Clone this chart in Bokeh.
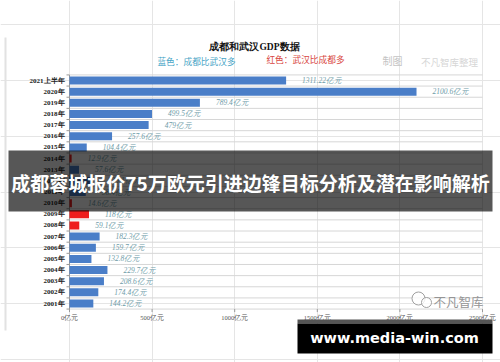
from bokeh.plotting import figure
from bokeh.models import ColumnDataSource, Range1d
from bokeh.core.properties import value
from bokeh.embed import file_html
from bokeh.resources import INLINE

# ---------------- data ----------------
categories = ["2021上半年", "2020年", "2019年", "2018年", "2017年", "2016年", "2015年",
              "2014年", "2013年", "2012年", "2011年", "2010年", "2009年", "2008年",
              "2007年", "2006年", "2005年", "2004年", "2003年", "2002年", "2001年"]
diff_values = [1311.22, 2100.6, 789.4, 499.5, 479, 257.6, 104.4,
               12.9, 57.6, 135.1, 98.4, 14.6, 118, 59.1,
               182.3, 159.7, 132.8, 229.7, 208.6, 174.4, 144.2]
leader = ["成都", "成都", "成都", "成都", "成都", "成都", "成都",
          "武汉", "成都", "成都", "成都", "武汉", "武汉", "武汉",
          "成都", "成都", "成都", "成都", "成都", "成都", "成都"]
value_labels = ["1311.22亿元", "2100.6亿元", "789.4亿元", "499.5亿元", "479亿元", "257.6亿元", "104.4亿元",
                "12.9亿元", "57.6亿元", "135.1亿元", "98.4亿元", "14.6亿元", "118亿元", "59.1亿元",
                "182.3亿元", "159.7亿元", "132.8亿元", "229.7亿元", "208.6亿元", "174.4亿元", "144.2亿元"]
tick_values = [0, 500, 1000, 1500, 2000, 2500]
tick_labels = ["0亿元", "500亿元", "1000亿元", "1500亿元", "2000亿元", "2500亿元"]

title_text = "成都和武汉GDP数据"
legend_blue = "蓝色：成都比武汉多"
legend_red = "红色：武汉比成都多"
banner_text = "成都蓉城报价75万欧元引进边锋目标分析及潜在影响解析"
watermark_text = "不凡智库"
site_text = "www.media-win.com"

# ---------------- layout helpers ----------------
W, H = 500, 362
PX_PER_UNIT = 0.1652      # horizontal pixels per 亿元
ROW_PX = 11.15            # pixels per row
X0_PX, Y0_PX = 69, 303    # page position of value 0 / bottom row centre


def fx(px):
    return (px - X0_PX) / PX_PER_UNIT


def fy(py):
    return (Y0_PX - py) / ROW_PX


def txt(x, y, t, font, size, color, style="normal", align="center"):
    p.text(x=[fx(x)], y=[fy(y)], text=[t], text_align=align, text_baseline="middle",
           text_font=value(font), text_font_style=style, text_font_size=size, text_color=color)


n = len(categories)
rows = [n - 1 - i for i in range(n)]
colors = ["#4a7ec8" if l == "成都" else "#ee1d1d" for l in leader]

src = ColumnDataSource(dict(cat=categories, val=diff_values, y=rows, col=colors, lab=value_labels))

p = figure(width=W, height=H, output_backend="svg", toolbar_location=None,
           x_range=Range1d(fx(0), fx(W)), y_range=Range1d(fy(H), fy(0)),
           x_axis_location=None, y_axis_location=None, min_border=0,
           outline_line_color=None, background_fill_color="white",
           border_fill_color="white")

# thin left border of the screenshot
p.segment(x0=[fx(5)], x1=[fx(5)], y0=[fy(37)], y1=[fy(330)], line_color="#e2e2e2", line_width=2)

# grid lines (row boundaries)
bounds = [k + 0.5 for k in range(-1, n)]
p.segment(x0=[0] * len(bounds), x1=[tick_values[-1]] * len(bounds), y0=bounds, y1=bounds,
          line_color="#d6d6d6", line_width=1)
# left axis line and small ticks
p.segment(x0=[0], x1=[0], y0=[-0.5], y1=[n - 0.5], line_color="#9a9a9a", line_width=1)
p.segment(x0=[fx(66)] * len(bounds), x1=[0] * len(bounds), y0=bounds, y1=bounds,
          line_color="#9a9a9a", line_width=1)
# bottom ticks
p.segment(x0=tick_values, x1=tick_values, y0=[-0.5] * len(tick_values),
          y1=[-0.5 - 3 / ROW_PX] * len(tick_values), line_color="#9a9a9a", line_width=1)

# bars
p.hbar(y="y", left=0, right="val", height=0.72, fill_color="col", line_color=None, source=src)

# value labels
p.text(x="val", y="y", text="lab", x_offset=16, text_align="left", text_baseline="middle",
       text_font=value("Liberation Serif"), text_font_style="italic", text_font_size="7.5px",
       text_color="#6f9ca8", source=src)

# category labels
p.text(x=[fx(64)] * n, y=rows, text=categories, text_align="right", text_baseline="middle",
       text_font=value("Liberation Serif"), text_font_style="bold", text_font_size="7px",
       text_color="#222222")

# x tick labels
p.text(x=tick_values, y=[fy(317)] * len(tick_values), text=tick_labels, text_align="center",
       text_baseline="middle", text_font=value("Liberation Serif"), text_font_size="6.5px",
       text_color="#555555")

# title and legend texts
txt(254, 46, title_text, "Liberation Serif", "9.5px", "#111111", style="bold")
txt(196, 61, legend_blue, "Noto Sans CJK SC", "8.7px", "#46a4c6")
txt(305, 59, legend_red, "Noto Sans CJK SC", "8.7px", "#d8463e")
# blurred watermark top right
txt(392, 60, "制图", "Noto Sans CJK SC", "10px", "#c4c4c4")
txt(449, 61, "不凡智库整理", "Noto Sans CJK SC", "9.5px", "#d6d6d6")

# wechat mark + watermark text
p.scatter(x=[fx(418), fx(426)], y=[fy(298), fy(302)], size=[13, 10], marker="circle",
          fill_color="white", fill_alpha=0.8, line_color="#a0a0a0", line_width=1)
txt(458, 301, watermark_text, "Noto Sans CJK SC", "12.5px", "#959595")

# dark banner
p.quad(left=fx(8), right=fx(492), top=fy(150), bottom=fy(211), fill_color="black",
       fill_alpha=0.66, line_color=None)
txt(250, 182, banner_text, "Noto Sans CJK SC", "19px", "white", style="bold")

# black site box
p.quad(left=fx(297), right=fx(492), top=fy(319), bottom=fy(323), fill_color="#555555", line_color=None)
p.quad(left=fx(297), right=fx(492), top=fy(323), bottom=fy(353), fill_color="black", line_color=None)
txt(394, 337, site_text, "DejaVu Sans", "14.5px", "white", style="bold")

open("out.html", "w").write(file_html(p, INLINE))
